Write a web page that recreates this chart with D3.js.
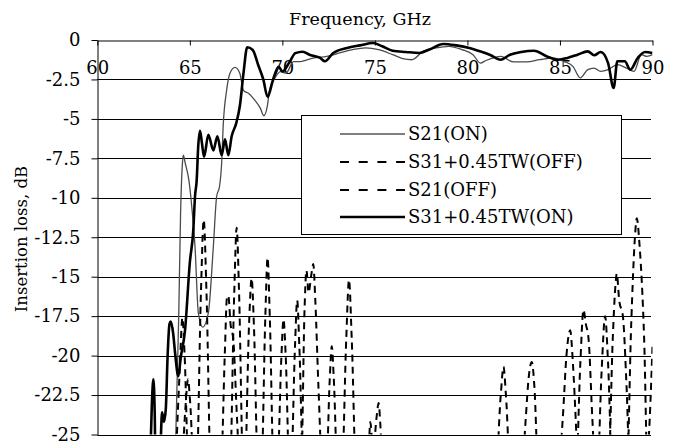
<!DOCTYPE html>
<html><head><meta charset="utf-8">
<script src="https://cdn.jsdelivr.net/npm/d3@7"></script>
<style>
html,body{margin:0;padding:0;background:#fff;}
text{font-family:"DejaVu Serif",serif;fill:#000;}
</style></head>
<body><svg id="c" width="678" height="445"></svg>
<script>
// ---- data ----
const freqTicks = [60, 65, 70, 75, 80, 85, 90];
const lossTicks = [0, -2.5, -5, -7.5, -10, -12.5, -15, -17.5, -20, -22.5, -25];
const lossTickLabels = ["0", "-2.5", "-5", "-7.5", "-10", "-12.5", "-15", "-17.5", "-20", "-22.5", "-25"];
const seriesNames = ["S21(ON)", "S31+0.45TW(OFF)", "S21(OFF)", "S31+0.45TW(ON)"];

// S21(ON) [GHz, dB]
const s21On = [[64.2,-27],[64.4,-17.5],[64.5,-11],[64.6,-7.8],[64.65,-7.3],[64.75,-7.8],[64.95,-8.9],[65.1,-10.5],[65.28,-13.1],
 [65.46,-17.3],[65.7,-18.2],[66.0,-17.3],[66.27,-13.1],[66.45,-9.9],[66.6,-9.3],[66.72,-7.8],[66.8,-5.5],[66.99,-3.17],[67.17,-2.1],
 [67.44,-1.73],[67.7,-2.1],[67.9,-3.2],[68.2,-3.4],[68.5,-3.8],[68.8,-4.3],[69.0,-4.8],[69.2,-4.1],[69.3,-3.2],[69.6,-2.4],
 [69.9,-2.0],[70.2,-2.1],[70.6,-1.37],[70.96,-1.37],[71.3,-1.27],[71.7,-1.14],[72.4,-1.04],[73.1,-0.82],[73.8,-0.61],[74.5,-0.5],
 [75.2,-0.61],[75.96,-0.93],[76.5,-1.18],[77.0,-1.25],[77.6,-0.72],[78.3,-0.5],[79.0,-0.4],[79.7,-0.61],[80.3,-0.93],[80.7,-1.46],
 [81.0,-1.3],[81.8,-1.04],[82.5,-1.39],[83.2,-1.39],[83.9,-1.25],[84.6,-1.14],[85.2,-1.35],[85.7,-1.67],[86.1,-2.4],[86.5,-1.88],
 [86.85,-1.78],[87.2,-1.99],[87.6,-1.88],[88.1,-1.56],[88.6,-1.78],[89.0,-1.99],[89.4,-0.93],[89.7,-1.04],[90.0,-0.93]];

// S31+0.45TW(ON)
const s31On = [[62.85,-27],[62.95,-23],[63.03,-21.5],[63.1,-23.5],[63.15,-27],[63.4,-26],[63.5,-23.6],[63.6,-24.2],[63.7,-23.4],
 [63.8,-20],[63.9,-18],[63.97,-17.85],[64.1,-18.6],[64.2,-19.8],[64.38,-21.3],[64.5,-20.2],[64.74,-18.4],[65.0,-14.1],[65.19,-12.0],
 [65.28,-9.9],[65.37,-8.9],[65.45,-6.8],[65.55,-5.75],[65.65,-6.5],[65.77,-7.4],[66.0,-6.0],[66.27,-7.0],[66.49,-6.1],[66.72,-7.3],
 [66.9,-6.3],[67.08,-7.3],[67.26,-6.1],[67.5,-5.3],[67.7,-4.2],[67.9,-2.1],[68.1,-0.46],[68.4,-0.63],[68.7,-1.6],[68.97,-2.5],
 [69.2,-3.6],[69.5,-2.5],[69.8,-1.7],[70.0,-2.0],[70.4,-1.37],[70.7,-0.83],[71.1,-0.74],[71.5,-0.95],[72.04,-1.14],[72.3,-1.35],
 [72.75,-0.82],[73.5,-0.5],[74.2,-0.34],[74.9,-0.19],[75.4,-0.4],[75.96,-0.68],[76.68,-0.76],[77.4,-0.82],[77.95,-0.6],[78.7,-0.25],
 [79.4,-0.34],[80.1,-0.5],[80.7,-0.72],[81.2,-0.93],[81.8,-1.25],[82.3,-0.93],[82.9,-0.76],[83.6,-0.68],[84.3,-1.04],[84.9,-1.25],
 [85.4,-1.14],[85.95,-0.93],[86.5,-0.72],[86.85,-0.97],[87.2,-0.76],[87.6,-1.46],[87.9,-3.04],[88.1,-1.35],[88.5,-1.35],[88.8,-1.88],
 [89.2,-1.14],[89.6,-0.76],[90.0,-0.82]];

// S21(OFF)
const s21Off = [[64.2,-28],[64.45,-21],[64.6,-17.6],[64.72,-20],[64.95,-28],
 [65.35,-28],[65.6,-16],[65.75,-11.4],[65.9,-16],[66.15,-28],
 [67.15,-28],[67.4,-16],[67.53,-11.9],[67.66,-16],[67.9,-28],
 [68.85,-28],[69.08,-17.5],[69.2,-13.8],[69.32,-17.5],[69.55,-28],
 [70.45,-28],[70.68,-19.5],[70.8,-16.5],[70.92,-19.5],[71.15,-28],
 [72.35,-28],[72.56,-21.5],[72.67,-19.4],[72.78,-21.5],[73.0,-28],
 [74.6,-28],[74.75,-24.2],[74.9,-26],[75.1,-23.8],[75.2,-23.0],[75.3,-24.5],[75.45,-28],
 [81.5,-28],[81.8,-22.5],[81.95,-20.7],[82.08,-22.5],[82.35,-28],
 [84.85,-28],[85.15,-24],[85.35,-20],[85.55,-18.4],[85.7,-20.5],[85.85,-24],[86.0,-28],
 [87.0,-28],[87.25,-21],[87.44,-17.5],[87.6,-20.5],[87.85,-28],
 [88.6,-28],[88.85,-18],[89.05,-12.5],[89.15,-11.3],[89.3,-13],[89.55,-19],[89.75,-28],[90.0,-28]];

// S31+0.45TW(OFF)
const s31Off = [[64.55,-28],[64.78,-23],[64.9,-21.5],[65.02,-23],[65.25,-28],
 [66.65,-28],[66.9,-19.5],[67.0,-16.4],[67.08,-16.2],[67.2,-18],[67.35,-19],[67.55,-24],[67.75,-28],
 [67.95,-28],[68.2,-18],[68.34,-15.1],[68.46,-18],[68.7,-28],
 [69.7,-28],[69.95,-20],[70.06,-17.7],[70.18,-20],[70.4,-28],
 [71.0,-28],[71.2,-17],[71.3,-14.6],[71.42,-16],[71.55,-15],[71.67,-14.2],[71.78,-16.5],[71.95,-22],[72.2,-28],
 [73.2,-28],[73.45,-19],[73.6,-15.2],[73.75,-19],[74.0,-28],
 [82.9,-28],[83.15,-24],[83.3,-21.5],[83.48,-20.4],[83.62,-22],[83.85,-28],
 [85.85,-28],[86.1,-20.5],[86.27,-17.1],[86.4,-18],[86.55,-19],[86.75,-24],[86.95,-28],
 [87.6,-28],[87.85,-19],[88.0,-15.5],[88.07,-14.8],[88.2,-16.5],[88.4,-17.5],[88.6,-22],[88.8,-28],
 [89.6,-28],[89.85,-24],[90.0,-19.4]];

// ---- drawing ----
const svg = d3.select("#c");
const x = d3.scaleLinear().domain([60, 90]).range([97.3, 652.5]);
const y = d3.scaleLinear().domain([0, -25]).range([40, 434.5]);
const FS = 18;

svg.append("defs").append("clipPath").attr("id","clip").append("rect")
  .attr("x", x(60)).attr("y", y(0)).attr("width", x(90)-x(60)).attr("height", y(-25)-y(0));

// gridlines
svg.append("g").selectAll("line").data(lossTicks.filter(d => d !== 0)).join("line")
  .attr("x1", x(60)).attr("x2", x(90) - 1.5)
  .attr("y1", d => Math.round(y(d)) + 0.5).attr("y2", d => Math.round(y(d)) + 0.5)
  .attr("stroke", "#000").attr("stroke-width", 1);

// top axis (labels below the line)
const gx = svg.append("g").attr("transform", `translate(0,${Math.round(y(0))+0.5})`)
  .call(d3.axisBottom(x).tickValues(freqTicks).tickSizeInner(5).tickSizeOuter(0).tickPadding(16).tickFormat(d3.format("d")));
gx.select(".domain").attr("stroke", "#000");
gx.selectAll("text").style("font-family", '"DejaVu Serif",serif').style("font-size", FS + "px").attr("fill", "#000");

// left axis
const gy = svg.append("g").attr("transform", `translate(${Math.round(x(60))+0.5},0)`)
  .call(d3.axisLeft(y).tickValues(lossTicks).tickSizeInner(6).tickSizeOuter(0).tickPadding(11)
    .tickFormat((d, i) => lossTickLabels[i]));
gy.select(".domain").attr("stroke", "#000");
gy.selectAll("text").style("font-family", '"DejaVu Serif",serif').style("font-size", FS + "px").attr("fill", "#000");

// titles
svg.append("text").attr("x", 360).attr("y", 25).attr("text-anchor", "middle")
  .style("font-size", "17.5px").text("Frequency, GHz");
svg.append("text").attr("transform", "translate(27,239) rotate(-90)").attr("text-anchor", "middle")
  .style("font-size", "16.5px").text("Insertion loss, dB");

// series
const line = d3.line().x(d => x(d[0])).y(d => y(d[1])).curve(d3.curveMonotoneX);
const plot = svg.append("g").attr("clip-path", "url(#clip)");
const styles = [
  {data: s21On, stroke: "#4a4a4a", w: 1.3, dash: null},
  {data: s31Off, stroke: "#000", w: 2, dash: "7,5"},
  {data: s21Off, stroke: "#000", w: 2, dash: "7,5"},
  {data: s31On, stroke: "#000", w: 2.6, dash: null}
];
plot.selectAll("path").data(styles).join("path")
  .attr("d", s => line(s.data)).attr("fill", "none")
  .attr("stroke", s => s.stroke).attr("stroke-width", s => s.w)
  .attr("stroke-dasharray", s => s.dash).attr("stroke-linejoin", "round");

// legend
const lg = svg.append("g");
lg.append("rect").attr("x", 301.5).attr("y", 115.5).attr("width", 320).attr("height", 119)
  .attr("fill", "#fff").attr("stroke", "#000").attr("stroke-width", 1);
const rowY = [134, 162, 190, 217];
const legendStyles = [
  {w: 1.2, dash: null, stroke: "#000"},
  {w: 2.2, dash: "9,9.7", stroke: "#000"},
  {w: 2.2, dash: "9,9.7", stroke: "#000"},
  {w: 2.6, dash: null, stroke: "#000"}
];
seriesNames.forEach((name, i) => {
  lg.append("line").attr("x1", 340).attr("x2", 405).attr("y1", rowY[i]).attr("y2", rowY[i])
    .attr("stroke", legendStyles[i].stroke).attr("stroke-width", legendStyles[i].w)
    .attr("stroke-dasharray", legendStyles[i].dash);
  lg.append("text").attr("x", 408).attr("y", rowY[i]).attr("dy", "0.36em")
    .style("font-size", FS + "px").text(name);
});
</script></body></html>
